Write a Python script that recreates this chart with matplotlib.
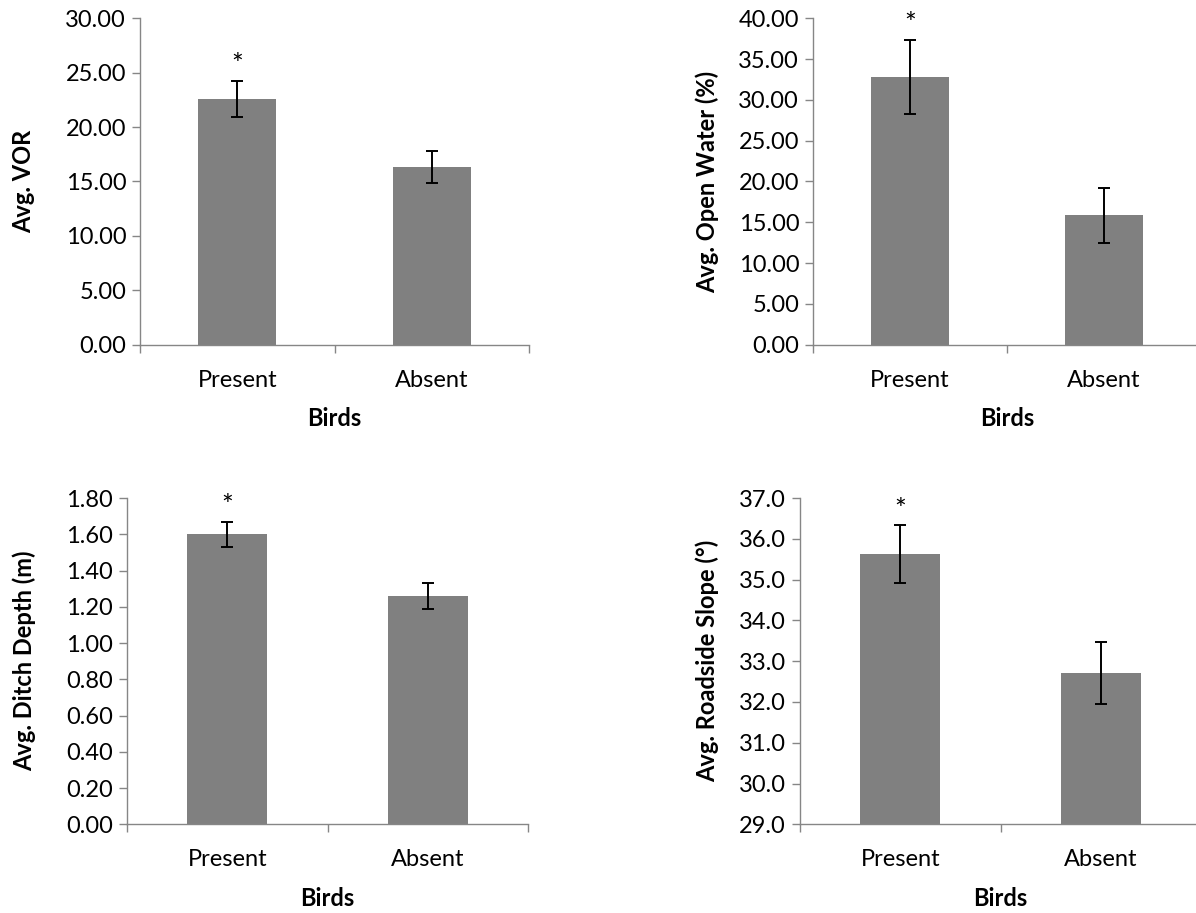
import matplotlib.pyplot as plt
import numpy as np
from matplotlib.ticker import FormatStrFormatter

plt.rcParams['font.family'] = ['Lato', 'DejaVu Sans']

categories = ["Present", "Absent"]

vor_mean = [22.57, 16.36]
vor_err = [1.69, 1.47]

water_mean = [32.84, 15.85]
water_err = [4.55, 3.35]

depth_mean = [1.60, 1.26]
depth_err = [0.07, 0.07]

slope_mean = [35.63, 32.71]
slope_err = [0.71, 0.76]

ylabels = ["Avg. VOR", "Avg. Open Water (%)", "Avg. Ditch Depth (m)", "Avg. Roadside Slope (°)"]

# Создание окна
fig = plt.figure(figsize=(11.96, 9.13), dpi=100)
ax1 = fig.add_axes([0.1171, 0.6225, 0.3253, 0.3575])
ax2 = fig.add_axes([0.6798, 0.6225, 0.3244, 0.3575])
ax3 = fig.add_axes([0.1062, 0.0972, 0.3353, 0.3571])
ax4 = fig.add_axes([0.6689, 0.0972, 0.3353, 0.3571])

panels = [
    (ax1, vor_mean, vor_err, ylabels[0], (0, 30), 5, "%.2f", 22),
    (ax2, water_mean, water_err, ylabels[1], (0, 40), 5, "%.2f", 14),
    (ax3, depth_mean, depth_err, ylabels[2], (0, 1.8), 0.2, "%.2f", 22),
    (ax4, slope_mean, slope_err, ylabels[3], (29, 37), 1, "%.1f", 14),
]

grey = "#868686"
x = np.arange(len(categories))

for ax, mean, err, ylab, ylim, step, fmt, lpad in panels:
    bottom = ylim[0]
    heights = [m - bottom for m in mean]
    ax.bar(x, heights, width=0.4, bottom=bottom, color="#808080", zorder=2)
    ax.errorbar(x, mean, yerr=err, fmt="none", ecolor="black", elinewidth=1.4,
                capsize=4.5, capthick=1.4, zorder=3)
    # asterisk over Present bar
    ax.annotate("*", xy=(x[0], mean[0] + err[0]), xytext=(0, 1),
                textcoords="offset points", ha="center", va="bottom", fontsize=20)

    ax.set_xlim(-0.5, 1.5)
    ax.set_ylim(*ylim)
    ax.set_yticks(np.arange(ylim[0], ylim[1] + step / 2, step))
    ax.yaxis.set_major_formatter(FormatStrFormatter(fmt))

    ax.set_xticks(x)
    ax.set_xticklabels(categories)
    ax.set_xticks([-0.5, 0.5, 1.5], minor=True)
    ax.tick_params(axis="x", which="major", length=0, pad=18, labelsize=17)
    ax.tick_params(axis="x", which="minor", length=6, width=1.0, color=grey)
    ax.tick_params(axis="y", length=6, width=1.0, color=grey, labelsize=17, pad=4)

    ax.set_ylabel(ylab, fontsize=17, fontweight="bold", labelpad=lpad)
    ax.set_xlabel("Birds", fontsize=17, fontweight="bold", labelpad=12)

    ax.spines['top'].set_visible(False)
    ax.spines['right'].set_visible(False)
    ax.spines['left'].set_color(grey)
    ax.spines['bottom'].set_color(grey)
    ax.spines['left'].set_linewidth(1.0)
    ax.spines['bottom'].set_linewidth(1.0)
    ax.spines['bottom'].set_zorder(4)

fig.savefig("out.png", dpi=100)
